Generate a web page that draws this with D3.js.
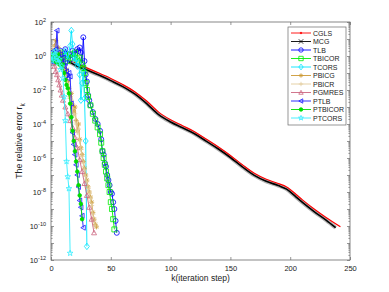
<!DOCTYPE html>
<html>
<head>
<meta charset="utf-8">
<script src="https://cdn.jsdelivr.net/npm/d3@7"></script>
<style>
  body { margin: 0; background: #fff; }
  text { font-family: "Liberation Sans", Arial, sans-serif; fill: #222; }
</style>
</head>
<body>
<svg id="chart" width="389" height="292"></svg>
<script>
// iteration numbers (k) and log10 of the relative error for each method
var cglsK   = [15,20,30,40,50,60,70,80,90,100,110,120,130,140,150,160,170,180,190,197,205,210,220,230,242];
var cglsLog = [-0.25,-0.4,-0.7,-1.0,-1.32,-1.68,-2.1,-2.65,-3.3,-3.75,-4.1,-4.45,-4.9,-5.35,-5.85,-6.4,-6.9,-7.25,-7.5,-7.7,-8.15,-8.45,-9.0,-9.5,-10.05];

var mcgK   = [14,20,30,40,50,60,70,80,90,100,110,120,130,140,150,160,170,180,190,197,205,210,220,230,238];
var mcgLog = [-0.3,-0.53,-0.83,-1.12,-1.45,-1.8,-2.23,-2.8,-3.45,-3.88,-4.22,-4.57,-5.02,-5.47,-5.97,-6.52,-7.02,-7.37,-7.62,-7.83,-8.3,-8.6,-9.15,-9.65,-10.1];

var tlbK   = [0,2,4,6,8,10,12,14,16,18,20,22,23,24,25,26,27,28,29,30,31,32,33,35,37,39,41,42,43,44,45,46,47,48,49,50,51,52,53,54,55];
var tlbLog = [0,-0.3,0.2,-0.2,0.3,-0.1,0.4,0.1,-0.2,0.3,0.1,0.4,0.3,0.5,0.2,-0.4,1.1,-0.3,-1.1,-1.5,-2.3,-2.6,-2.9,-3.3,-3.7,-4.0,-4.4,-4.9,-5.6,-5.8,-6.3,-6.5,-7.0,-7.3,-7.6,-8.0,-8.1,-8.6,-9.0,-9.7,-10.4];

var tbicorK   = [0,2,4,6,8,10,12,14,16,18,20,22,24,26,27,28,29,30,31,33,35,37,39,41,42,43,44,45,46,47,48,49,50,51,52,53];
var tbicorLog = [0,-0.2,0.1,-0.3,0.2,-0.2,0.0,-0.3,0.1,-0.1,0.2,-0.2,-0.1,-0.5,-0.7,-1.0,-1.6,-2.0,-2.4,-2.9,-3.4,-3.8,-4.2,-4.6,-5.1,-5.6,-6.0,-6.4,-6.8,-7.2,-7.6,-8.0,-8.6,-9.0,-9.6,-10.2];

var tcorsK   = [0,2,4,6,8,10,12,14,16,17,18,19,20,21,22,23,24,25,26,27,28,29,30];
var tcorsLog = [0,-0.4,0.2,-0.3,0.1,-0.5,0.3,-0.2,0.6,1.5,0.7,0.0,-0.3,-0.2,-0.6,-0.4,-1.1,-2.6,-1.6,-0.9,-2.5,-5.0,-11.2];

var pbicgK   = [0,1,2,3,4,5,6,7,8,9,10,11,12,13,14,15,16,17,18,19,20,21,22,23,24,25,26,27,28,29,30,31,32,33,34,35,36,37,38];
var pbicgLog = [0,0.3,-0.2,0.6,0.9,0.2,0.5,-0.1,0.2,-0.4,-0.2,-0.7,-1.0,-0.8,-1.5,-1.9,-2.4,-2.2,-2.9,-3.3,-3.0,-3.8,-4.4,-4.0,-4.9,-5.4,-5.8,-6.2,-6.6,-7.0,-7.3,-7.7,-8.0,-8.3,-8.6,-9.2,-9.6,-9.9,-10.05];

var pbicrK   = [0,1,2,3,4,5,6,7,8,9,10,11,12,13,14,15,16,17,18,19,20,21,22,23,24,25,26,27,28,29,30,31,32,33,34,35,36,37];
var pbicrLog = [0,0.2,-0.3,0.4,0.6,0.0,0.3,-0.3,0.0,-0.6,-0.5,-0.9,-1.2,-1.1,-1.7,-2.1,-2.5,-2.6,-3.1,-3.5,-3.4,-4.0,-4.5,-4.3,-5.0,-5.5,-5.9,-6.3,-6.7,-7.1,-7.4,-7.8,-8.1,-8.4,-8.8,-9.3,-9.7,-10.0];

var pgmresK   = [0,1,2,3,4,5,6,7,8,9,10,12,14,16,18,20,22,24,26,28,30,32,34,36];
var pgmresLog = [0,-0.2,-0.4,-0.6,-0.9,-1.1,-1.4,-1.7,-2.0,-2.3,-2.6,-3.0,-3.4,-3.8,-4.2,-4.8,-5.4,-6.1,-6.8,-7.5,-8.2,-8.9,-9.6,-10.4];

var ptlbK   = [0,1,2,3,4,5,6,7,8,9,10,11,12,13,14,15,16,17,18,19,20,21,22,23,24,25,26,27];
var ptlbLog = [0,-0.3,0.3,-0.1,0.4,1.5,0.2,-0.2,0.1,-0.4,-0.1,-0.6,-0.4,-0.9,-1.3,-1.0,-1.2,-2.8,-4.5,-5.2,-5.8,-6.4,-7.0,-7.7,-8.5,-8.9,-9.4,-10.1];

var ptbicorK   = [0,1,2,3,4,5,6,7,8,9,10,11,12,13,14,15,16,17,18,19,20,21,22,23,24,25,26];
var ptbicorLog = [0,-0.2,0.1,-0.3,0.0,-0.4,0.1,-0.5,-0.2,-0.7,-0.5,-1.0,-1.4,-1.7,-1.9,-2.2,-2.8,-3.6,-4.4,-5.0,-5.6,-6.2,-6.8,-7.6,-8.2,-8.7,-9.6];

var ptcorsK   = [0,1,2,3,4,5,6,7,8,9,10,11,12,13,14,15,16];
var ptcorsLog = [0,-0.3,0.2,-0.2,0.3,-0.1,-0.4,-0.2,-0.8,-0.6,-1.3,-2.4,-3.8,-6.2,-7.1,-7.8,-11.6];

var xTicks = [0, 50, 100, 150, 200, 250];
var yLabelExps = [2, 0, -2, -4, -6, -8, -10, -12];

var series = [
  {name: "CGLS",    k: cglsK,    v: cglsLog,    color: "#ff0000", mark: "."},
  {name: "MCG",     k: mcgK,     v: mcgLog,     color: "#000000", mark: "x"},
  {name: "TLB",     k: tlbK,     v: tlbLog,     color: "#0000ff", mark: "o"},
  {name: "TBICOR",  k: tbicorK,  v: tbicorLog,  color: "#00ee00", mark: "s"},
  {name: "TCORS",   k: tcorsK,   v: tcorsLog,   color: "#00e5ff", mark: "d"},
  {name: "PBICG",   k: pbicgK,   v: pbicgLog,   color: "#cc9933", mark: "*"},
  {name: "PBICR",   k: pbicrK,   v: pbicrLog,   color: "#e2cc9c", mark: "+"},
  {name: "PGMRES",  k: pgmresK,  v: pgmresLog,  color: "#cc6680", mark: "^"},
  {name: "PTLB",    k: ptlbK,    v: ptlbLog,    color: "#1a1aff", mark: "<"},
  {name: "PTBICOR", k: ptbicorK, v: ptbicorLog, color: "#00dd00", mark: "dot"},
  {name: "PTCORS",  k: ptcorsK,  v: ptcorsLog,  color: "#33eeff", mark: "p"}
];

var svg = d3.select("#chart");
var pLeft = 51, pRight = 350, pTop = 22, pBottom = 260;

var x = d3.scaleLinear().domain([0, 250]).range([pLeft, pRight]);
var y = d3.scaleLog().domain([1e-12, 1e2]).range([pBottom, pTop]);

// marker shapes, MATLAB style
function markerPath(m, s){
  switch (m){
  case "o": return "M" + s + ",0A" + s + "," + s + " 0 1,1 " + (-s) + ",0A" + s + "," + s + " 0 1,1 " + s + ",0Z";
  case "x": return "M" + (-s) + "," + (-s) + "L" + s + "," + s + "M" + (-s) + "," + s + "L" + s + "," + (-s);
  case "s": return "M" + (-s) + "," + (-s) + "H" + s + "V" + s + "H" + (-s) + "Z";
  case "d": return "M0," + (-s*1.3) + "L" + s + ",0L0," + (s*1.3) + "L" + (-s) + ",0Z";
  case "^": return "M0," + (-s) + "L" + s + "," + (s*0.8) + "L" + (-s) + "," + (s*0.8) + "Z";
  case "<": return "M" + (-s) + ",0L" + (s*0.8) + "," + (-s) + "L" + (s*0.8) + "," + s + "Z";
  case "+": return "M" + (-s) + ",0H" + s + "M0," + (-s) + "V" + s;
  case "*": var a = s*0.7;
    return "M" + (-s) + ",0H" + s + "M0," + (-s) + "V" + s +
      "M" + (-a) + "," + (-a) + "L" + a + "," + a + "M" + (-a) + "," + a + "L" + a + "," + (-a);
  case "p":
    var pts = [];
    for (var i = 0; i < 10; i++){
      var r = i % 2 == 0 ? s*1.2 : s*0.5;
      var ang = -Math.PI/2 + i*Math.PI/5;
      pts.push([r*Math.cos(ang), r*Math.sin(ang)]);
    }
    return "M" + pts.map(p => p[0].toFixed(2) + "," + p[1].toFixed(2)).join("L") + "Z";
  case ".": return markerPath("o", 0.8);
  case "dot": return markerPath("o", 1.8);
  }
}
function markerFill(d){ return (d.mark == "." || d.mark == "dot") ? d.color : "none"; }

// frame
svg.append("rect")
  .attr("x", pLeft).attr("y", pTop)
  .attr("width", pRight - pLeft).attr("height", pBottom - pTop)
  .attr("fill", "#fff").attr("stroke", "#6a6a6a").attr("stroke-width", 0.8);

// ticks
var majorY = d3.range(-12, 3).map(e => Math.pow(10, e));
var minorY = [];
d3.range(-12, 2).forEach(function(e){
  for (var m = 2; m < 10; m++) minorY.push(m * Math.pow(10, e));
});

function styleAxis(g){
  g.select(".domain").remove();
  g.selectAll("line").attr("stroke", "#6a6a6a").attr("stroke-width", 0.7);
}

svg.append("g").attr("transform", "translate(0," + pBottom + ")")
  .call(d3.axisBottom(x).tickValues(xTicks).tickSize(-3).tickPadding(6).tickFormat(d3.format("d")))
  .call(styleAxis)
  .selectAll("text").attr("font-size", "7.5px").attr("fill", "#222")
  .attr("font-family", "Liberation Sans, Arial, sans-serif");
svg.append("g").attr("transform", "translate(0," + pTop + ")")
  .call(d3.axisTop(x).tickValues(xTicks).tickSize(-3).tickFormat(""))
  .call(styleAxis);

[["L", pLeft], ["R", pRight]].forEach(function(side){
  var mk = side[0] == "L" ? d3.axisLeft : d3.axisRight;
  svg.append("g").attr("transform", "translate(" + side[1] + ",0)")
    .call(mk(y).tickValues(majorY).tickSize(-3).tickFormat(""))
    .call(styleAxis);
  svg.append("g").attr("transform", "translate(" + side[1] + ",0)")
    .call(mk(y).tickValues(minorY).tickSize(-1.6).tickFormat(""))
    .call(styleAxis);
});

// y tick labels 10^n
yLabelExps.forEach(function(e){
  var t = svg.append("text")
    .attr("x", 46).attr("y", y(Math.pow(10, e)) + 3)
    .attr("text-anchor", "end")
    .attr("font-size", "7.5px");
  t.append("tspan").text("10");
  t.append("tspan").attr("dy", -3.5).attr("font-size", "5.5px").text(e);
});

// axis labels
svg.append("text")
  .attr("x", (pLeft + pRight) / 2).attr("y", 281)
  .attr("text-anchor", "middle").attr("font-size", "8.5px")
  .text("k(iteration step)");
var yl = svg.append("text")
  .attr("transform", "translate(22," + ((pTop + pBottom) / 2) + ") rotate(-90)")
  .attr("text-anchor", "middle").attr("font-size", "8.8px");
yl.append("tspan").text("The relative error r");
yl.append("tspan").attr("dy", 2.5).attr("font-size", "6.5px").text("k");

// series
svg.append("clipPath").attr("id", "clip")
  .append("rect").attr("x", pLeft).attr("y", pTop).attr("width", pRight - pLeft).attr("height", pBottom - pTop);
var plot = svg.append("g").attr("clip-path", "url(#clip)");

var line = d3.line()
  .x(d => x(d[0]))
  .y(d => y(Math.pow(10, d[1])));
var smoothLine = d3.line()
  .curve(d3.curveMonotoneX)
  .x(d => x(d[0]))
  .y(d => y(Math.pow(10, d[1])));

function points(s){ return s.k.map((k, i) => [k, s.v[i]]); }

// the two long runs: MCG band (dense x markers) under the red CGLS line
var mcg = series[1], cgls = series[0];
plot.append("path").datum(points(mcg)).attr("d", smoothLine)
  .attr("fill", "none").attr("stroke", "#9a9a9a").attr("stroke-width", 4).attr("opacity", 0.75);
plot.append("path").datum(points(mcg)).attr("d", smoothLine)
  .attr("fill", "none").attr("stroke", "#000").attr("stroke-width", 1.6);
plot.append("path").datum(points(cgls)).attr("d", smoothLine)
  .attr("fill", "none").attr("stroke", cgls.color).attr("stroke-width", 1.2);

series.slice(2).forEach(function(s){
  var pts = points(s);
  var g = plot.append("g").attr("class", "series");
  g.append("path").datum(pts).attr("d", line)
    .attr("fill", "none").attr("stroke", s.color).attr("stroke-width", 0.9);
  g.selectAll(".m").data(pts).enter().append("path")
    .attr("class", "m")
    .attr("transform", d => "translate(" + x(d[0]) + "," + y(Math.pow(10, d[1])) + ")")
    .attr("d", markerPath(s.mark, 2.5))
    .attr("fill", markerFill(s))
    .attr("stroke", s.color).attr("stroke-width", 0.8);
});

// legend
var lg = svg.append("g");
lg.append("rect")
  .attr("x", 288).attr("y", 27).attr("width", 58).attr("height", 98)
  .attr("fill", "#fff").attr("stroke", "#6a6a6a").attr("stroke-width", 0.7);
series.forEach(function(s, i){
  var yy = 33 + i * 8.5;
  lg.append("line").attr("x1", 291).attr("x2", 311).attr("y1", yy).attr("y2", yy)
    .attr("stroke", s.color).attr("stroke-width", 0.9);
  lg.append("path").attr("transform", "translate(301," + yy + ")")
    .attr("d", markerPath(s.mark, 2.2))
    .attr("fill", markerFill(s)).attr("stroke", s.color).attr("stroke-width", 0.8);
  lg.append("text").attr("x", 313).attr("y", yy + 2.5)
    .attr("font-size", "7px").text(s.name);
});
</script>
</body>
</html>
